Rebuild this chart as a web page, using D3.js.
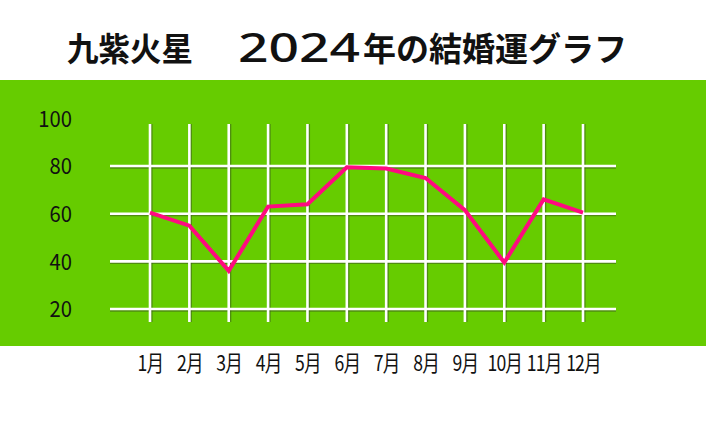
<!DOCTYPE html>
<html>
<head>
<meta charset="utf-8">
<script src="https://cdn.jsdelivr.net/npm/d3@7"></script>
<style>
  html, body { margin: 0; padding: 0; background: #ffffff; }
  svg { display: block; }
</style>
</head>
<body>
<svg id="chart" width="706" height="423"></svg>
<script>
const titlePart1 = "九紫火星";
const titleYear = "2024";
const titlePart2 = "年の結婚運グラフ";
const months = ["1月","2月","3月","4月","5月","6月","7月","8月","9月","10月","11月","12月"];
const values = [60.5, 55, 36, 63, 64, 79.5, 79, 75, 61.5, 39.5, 66, 60.5];
const yTickLabels = [20, 40, 60, 80, 100];
const yGridValues = [20, 40, 60, 80];

const svg = d3.select("#chart");
const W = 706, H = 423;

// background band
svg.append("rect").attr("x", 0).attr("y", 80).attr("width", W).attr("height", 266).attr("fill", "#66cc00");

// title (three pieces to mimic the wide year digits)
const tFont = "'Noto Sans CJK JP', sans-serif";
const title = svg.append("g").attr("fill", "#111").attr("font-family", tFont);
title.append("text")
  .attr("x", 67).attr("y", 61)
  .attr("font-weight", 700).attr("font-size", 33)
  .attr("textLength", 126).attr("lengthAdjust", "spacingAndGlyphs")
  .text(titlePart1);
title.append("text")
  .attr("x", 238).attr("y", 62)
  .attr("font-family", "'Noto Sans', sans-serif")
  .attr("font-weight", 500).attr("font-size", 40)
  .attr("textLength", 122).attr("lengthAdjust", "spacingAndGlyphs")
  .text(titleYear);
title.append("text")
  .attr("x", 363).attr("y", 61)
  .attr("font-weight", 700).attr("font-size", 33)
  .attr("textLength", 264).attr("lengthAdjust", "spacingAndGlyphs")
  .text(titlePart2);

const x = d3.scalePoint().domain(months).range([150, 583]);
const y = d3.scaleLinear().domain([0, 100]).range([356.7, 118.4]);

const grid = svg.append("g");
const shadow = "rgba(60,90,30,0.55)";
grid.append("g").selectAll("line").data(months).join("line")
  .attr("x1", d => x(d) + 1).attr("x2", d => x(d) + 1)
  .attr("y1", 124).attr("y2", 322)
  .attr("stroke", shadow).attr("stroke-width", 3.2);
grid.append("g").selectAll("line").data(yGridValues).join("line")
  .attr("x1", 110).attr("x2", 616)
  .attr("y1", d => y(d) + 1).attr("y2", d => y(d) + 1)
  .attr("stroke", shadow).attr("stroke-width", 3.2);
grid.append("g").selectAll("line").data(yGridValues).join("line")
  .attr("x1", 110).attr("x2", 616)
  .attr("y1", d => y(d)).attr("y2", d => y(d))
  .attr("stroke", "#ffffff").attr("stroke-width", 2.6);
grid.append("g").selectAll("line").data(months).join("line")
  .attr("x1", d => x(d)).attr("x2", d => x(d))
  .attr("y1", 124).attr("y2", 322)
  .attr("stroke", "#ffffff").attr("stroke-width", 2.6);

// y axis labels
const yAxis = d3.axisLeft(y).tickValues(yTickLabels).tickSize(0).tickPadding(0);
const gy = svg.append("g").attr("transform", "translate(72,0)").call(yAxis);
gy.select(".domain").remove();
gy.selectAll("text")
  .attr("font-family", "'Noto Sans CJK JP', 'Noto Sans', sans-serif")
  .attr("font-size", 22)
  .attr("fill", "#111")
  .attr("transform", "scale(0.92,1)")
  .attr("dy", "0.35em");

// x axis labels
const xAxis = d3.axisBottom(x).tickSize(0).tickPadding(0);
const gx = svg.append("g").attr("transform", "translate(0,353)").call(xAxis);
gx.select(".domain").remove();
gx.selectAll("text")
  .attr("font-family", "'Noto Sans CJK JP', 'Noto Sans', sans-serif")
  .attr("font-size", 22)
  .attr("letter-spacing", "-1px")
  .attr("transform", "scale(0.8,1)")
  .attr("fill", "#111")
  .attr("dy", "0.8em");

// line
const line = d3.line().x((d, i) => x(months[i])).y(d => y(d));
svg.append("path")
  .datum(values)
  .attr("d", line)
  .attr("fill", "none")
  .attr("stroke", "#ff0a80")
  .attr("stroke-width", 4)
  .attr("stroke-linejoin", "miter");
</script>
</body>
</html>
